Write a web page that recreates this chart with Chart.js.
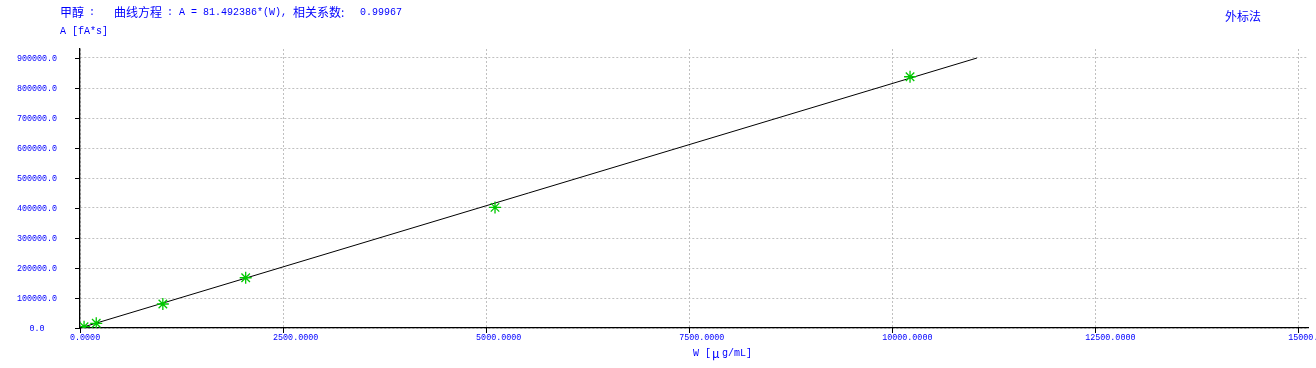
<!DOCTYPE html>
<html>
<head>
<meta charset="utf-8">
<script src="https://cdn.jsdelivr.net/npm/chart.js@4/dist/chart.umd.min.js"></script>
<style>
    html, body { margin: 0; padding: 0; background: #fff; }
    #calChart { display: block; }
</style>
</head>
<body>
<canvas id="calChart" width="1316" height="368"></canvas>
<script>
// calibration points
const stdW = [50, 200, 1020, 2040, 5110, 10220];
const stdA = [4300, 15600, 80000, 167500, 402000, 837500];

// fitted line A = 81.492386*(W), drawn up to the top gridline
const fitW = [0, 11044];
const fitA = [0, 900000];

const xTicks = [0, 2500, 5000, 7500, 10000, 12500, 15000];
const yTicks = [0, 100000, 200000, 300000, 400000, 500000, 600000, 700000, 800000, 900000];

const blue = '#0000ff';
const monoFont = "'Liberation Mono', 'DejaVu Sans Mono', monospace";
const cjkFont = "'Noto Sans CJK SC', sans-serif";

const labelsPlugin = {
    id: 'labels',
    afterDraw(chart) {
        const ctx = chart.ctx;
        const xs = chart.scales.x;
        const ys = chart.scales.y;
        ctx.save();

        // tick marks
        ctx.strokeStyle = '#000';
        ctx.lineWidth = 1;
        ctx.beginPath();
        yTicks.forEach(v => {
            const py = Math.round(ys.getPixelForValue(v)) + 0.5;
            ctx.moveTo(xs.left - 5, py);
            ctx.lineTo(xs.left, py);
        });
        xTicks.forEach(v => {
            const px = Math.round(xs.getPixelForValue(v)) + 0.5;
            ctx.moveTo(px, ys.bottom);
            ctx.lineTo(px, ys.bottom + 5);
        });
        ctx.stroke();

        // tick labels
        ctx.fillStyle = blue;
        ctx.font = '8.4px ' + monoFont;
        ctx.textBaseline = 'middle';
        ctx.textAlign = 'center';
        yTicks.forEach(v => {
            ctx.fillText(v.toFixed(1), 37, ys.getPixelForValue(v) + 0.5);
        });
        ctx.textAlign = 'left';
        xTicks.forEach(v => {
            ctx.fillText(v.toFixed(4), xs.getPixelForValue(v) - 10, ys.bottom + 10);
        });

        // headers
        ctx.font = '12px ' + cjkFont;
        ctx.fillText('甲醇', 60, 12);
        ctx.fillText('曲线方程', 114, 12);
        ctx.fillText('相关系数:', 293, 12);
        ctx.fillText('外标法', 1225, 16);
        ctx.font = '10px ' + monoFont;
        ctx.fillText(':', 89, 12);
        ctx.fillText(': A = 81.492386*(W),', 167, 12);
        ctx.fillText('0.99967', 360, 12);
        ctx.fillText('A [fA*s]', 60, 31);

        // x axis title
        ctx.fillText('W [', 693, 353);
        ctx.font = '12px ' + cjkFont;
        ctx.fillText('μ', 712, 353);
        ctx.font = '10px ' + monoFont;
        ctx.fillText('g/mL]', 722, 353);

        ctx.restore();
    }
};

const ctx = document.getElementById('calChart').getContext('2d');
const chart = new Chart(ctx, {
    type: 'scatter',
    data: {
        datasets: [
            {
                label: '标准点',
                data: stdW.map((w, i) => ({ x: w, y: stdA[i] })),
                pointStyle: 'star',
                radius: 6,
                borderWidth: 1.3,
                borderColor: 'rgb(0, 200, 0)',
                backgroundColor: 'rgb(0, 200, 0)',
                order: 1
            },
            {
                label: '曲线',
                type: 'line',
                data: fitW.map((w, i) => ({ x: w, y: fitA[i] })),
                borderColor: '#000',
                borderWidth: 1,
                pointRadius: 0,
                fill: false,
                order: 2
            }
        ]
    },
    options: {
        responsive: false,
        animation: false,
        devicePixelRatio: 1,
        layout: { padding: { left: 80, top: 49, right: 8, bottom: 40 } },
        plugins: {
            legend: { display: false },
            tooltip: { enabled: false }
        },
        scales: {
            x: {
                type: 'linear',
                min: 0,
                max: 15120,
                afterBuildTicks: axis => { axis.ticks = xTicks.map(v => ({ value: v })); },
                ticks: { display: false },
                grid: { color: '#c0c0c0', lineWidth: 1, drawTicks: false, tickLength: 0 },
                border: { display: true, color: '#000', width: 1.3, dash: [2, 2] }
            },
            y: {
                type: 'linear',
                min: 0,
                max: 930000,
                afterBuildTicks: axis => { axis.ticks = yTicks.map(v => ({ value: v })); },
                ticks: { display: false },
                grid: { color: '#c0c0c0', lineWidth: 1, drawTicks: false, tickLength: 0 },
                border: { display: true, color: '#000', width: 1.3, dash: [2, 2] }
            }
        }
    },
    plugins: [labelsPlugin]
});
</script>
</body>
</html>
